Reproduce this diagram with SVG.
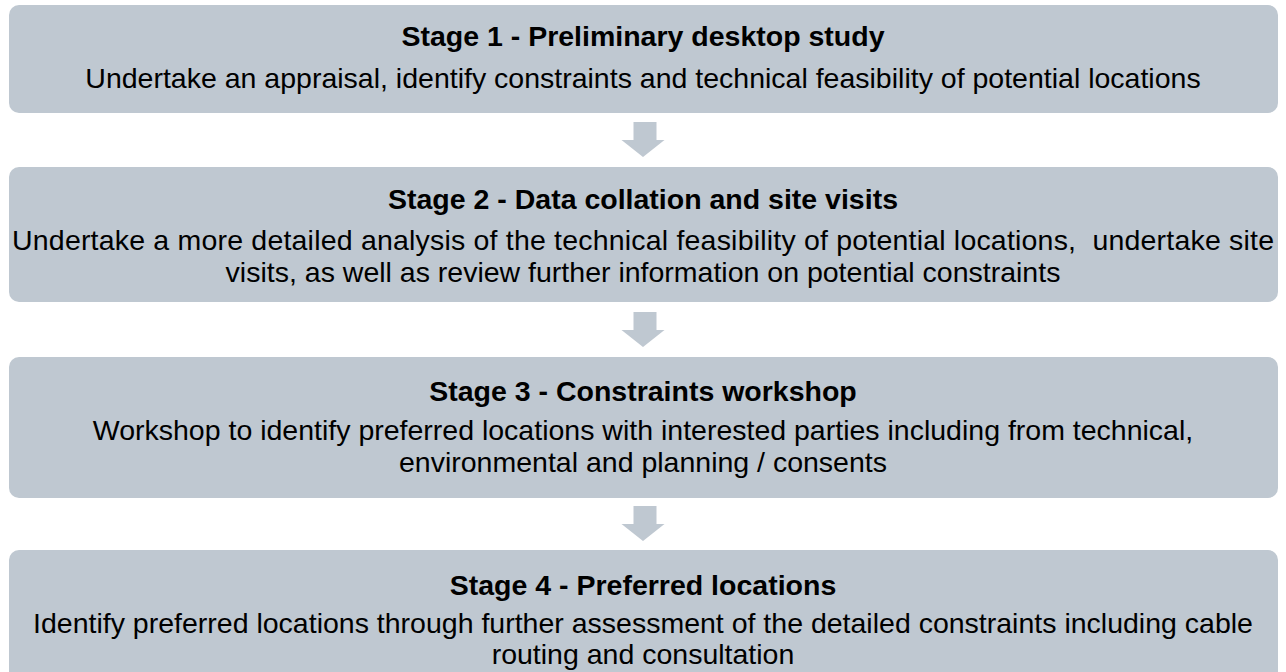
<svg xmlns="http://www.w3.org/2000/svg" width="1286" height="672" viewBox="0 0 1286 672">
  <style>
    .box { fill: #bfc8d1; }
    .arrow { fill: #bfc8d1; }
    .title { font-family: "Liberation Sans", Arial, sans-serif; font-weight: bold; font-size: 28.5px; fill: #000; text-anchor: middle; }
    .body { font-family: "Liberation Sans", Arial, sans-serif; font-size: 28.5px; fill: #000; text-anchor: middle; }
  </style>
  <defs>
    <path id="down" d="M -9.5 0 H 13.5 V 18 H 21.5 L 0 35 L -21.5 18 H -9.5 Z"/>
  </defs>
  <rect width="1286" height="672" fill="#ffffff"/>

  <g id="stage1">
    <rect class="box" x="9" y="5" width="1269" height="108" rx="10"/>
    <text class="title" x="643" y="46">Stage 1 - Preliminary desktop study</text>
    <text class="body" x="643" y="88">Undertake an appraisal, identify constraints and technical feasibility of potential locations</text>
  </g>

  <g id="stage2">
    <rect class="box" x="9" y="167" width="1269" height="135" rx="10"/>
    <text class="title" x="643" y="209">Stage 2 - Data collation and site visits</text>
    <text class="body" x="643" y="250" textLength="1262" lengthAdjust="spacing" xml:space="preserve">Undertake a more detailed analysis of the technical feasibility of potential locations,  undertake site</text>
    <text class="body" x="643" y="282">visits, as well as review further information on potential constraints</text>
  </g>

  <g id="stage3">
    <rect class="box" x="9" y="357" width="1269" height="141" rx="10"/>
    <text class="title" x="643" y="401">Stage 3 - Constraints workshop</text>
    <text class="body" x="643" y="440">Workshop to identify preferred locations with interested parties including from technical,</text>
    <text class="body" x="643" y="472">environmental and planning / consents</text>
  </g>

  <g id="stage4">
    <rect class="box" x="9" y="550" width="1269" height="136" rx="10"/>
    <text class="title" x="643" y="595">Stage 4 - Preferred locations</text>
    <text class="body" x="643" y="633">Identify preferred locations through further assessment of the detailed constraints including cable</text>
    <text class="body" x="643" y="664">routing and consultation</text>
  </g>

  <g id="connectors">
    <use class="arrow" href="#down" x="643" y="122"/>
    <use class="arrow" href="#down" x="643" y="312"/>
    <use class="arrow" href="#down" x="643" y="506"/>
  </g>
</svg>
